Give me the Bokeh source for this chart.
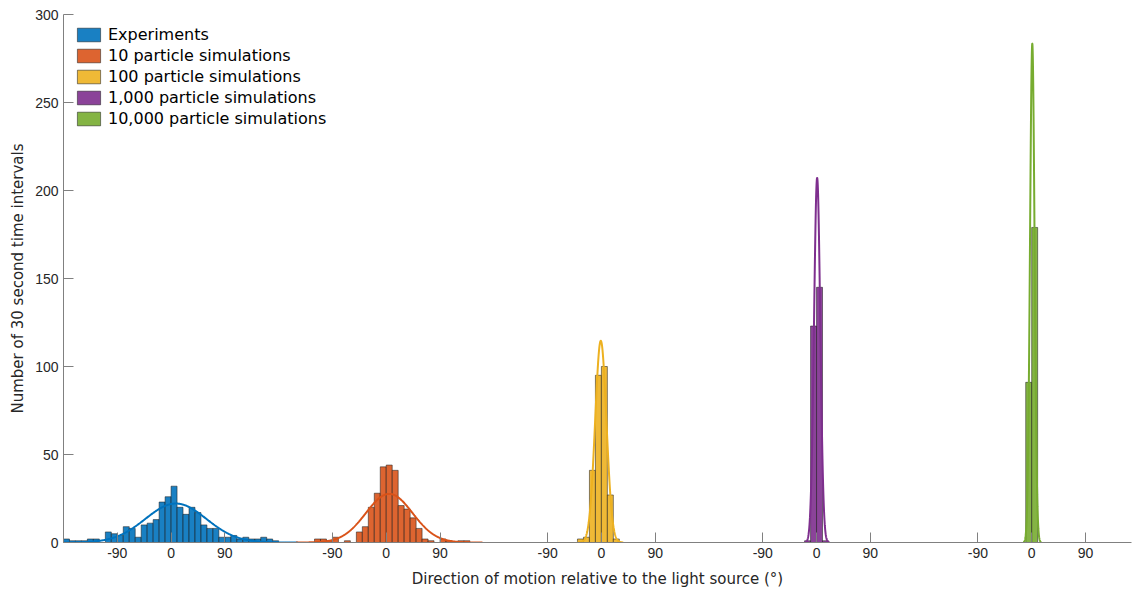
import numpy as np
from bokeh.plotting import figure
from bokeh.models import Range1d, FixedTicker, Legend, LegendItem, CustomJSTickFormatter
from bokeh.embed import file_html
from bokeh.resources import INLINE

# ---- data ---------------------------------------------------------------
BIN_WIDTH = 10          # histogram bin width, degrees
GROUP_SHIFT = 360       # each histogram is drawn one full turn to the right of the previous

series_names = [
    "Experiments",
    "10 particle simulations",
    "100 particle simulations",
    "1,000 particle simulations",
    "10,000 particle simulations",
]
series_colors = ["#0072BD", "#D95319", "#EDB120", "#7E2F8E", "#77AC30"]

# left edge of the first bin (degrees) and bin counts for each series
exp_first_bin = -180
exp_counts = [2, 1, 1, 1, 2, 2, 0, 6, 5, 4, 9, 8, 3, 10, 11, 13, 23, 26,
              32, 20, 16, 20, 17, 10, 8, 8, 3, 3, 4, 2, 3, 2, 2, 3, 2, 1]

p10_first_bin = -120
p10_counts = [2, 2, 1, 3, 0, 1, 0, 6, 9, 20, 28, 43, 44, 41, 21, 19, 14, 8,
              2, 1, 0, 2, 1, 0, 1, 1]

p100_first_bin = -40
p100_counts = [2, 3, 41, 95, 100, 27, 2]

p1000_first_bin = -20
p1000_counts = [1, 123, 145, 1]

p10000_first_bin = -10
p10000_counts = [91, 179]

first_bins = [exp_first_bin, p10_first_bin, p100_first_bin, p1000_first_bin, p10000_first_bin]
all_counts = [exp_counts, p10_counts, p100_counts, p1000_counts, p10000_counts]

# normal fit to each sample: mean and standard deviation (degrees)
fit_mean = [8, 5, -1, 1, 1]
fit_sd = [51, 39, 9.4, 5.2, 3.8]

tick_angles = [-90, 0, 90]
tick_labels = ["-90", "0", "90"]
y_ticks = [0, 50, 100, 150, 200, 250, 300]

# ---- figure -------------------------------------------------------------
p = figure(
    width=1132, height=592,
    x_range=Range1d(-180, 1607), y_range=Range1d(0, 300),
    output_backend="svg", toolbar_location=None,
    min_border_left=63, min_border_right=1, min_border_top=14, min_border_bottom=50,
)
p.outline_line_color = None
p.xgrid.visible = False
p.ygrid.visible = False
p.background_fill_color = "white"
p.border_fill_color = "white"

items = []
for i, (start, counts) in enumerate(zip(first_bins, all_counts)):
    shift = i * GROUP_SHIFT
    counts = np.asarray(counts, dtype=float)
    left = start + BIN_WIDTH * np.arange(len(counts)) + shift
    right = left + BIN_WIDTH
    keep = counts > 0
    r = p.quad(left=left[keep], right=right[keep], bottom=0, top=counts[keep],
               fill_color=series_colors[i], fill_alpha=0.9,
               line_color="#1a1a1a", line_alpha=0.75, line_width=0.7)
    items.append(LegendItem(label=series_names[i], renderers=[r]))

    # fitted normal curve scaled to the histogram (count * bin width * pdf)
    n = counts.sum()
    mu, sd = fit_mean[i], fit_sd[i]
    lo = min(start, mu - 4 * sd)
    hi = max(start + BIN_WIDTH * len(counts), mu + 4 * sd)
    xs = np.linspace(lo, hi, 800)
    ys = n * BIN_WIDTH * np.exp(-0.5 * ((xs - mu) / sd) ** 2) / (sd * np.sqrt(2 * np.pi))
    p.line(xs + shift, ys, line_color=series_colors[i], line_width=2)

# ---- axes ---------------------------------------------------------------
axis_color = "#808080"
text_color = "#262626"

xticks = [i * GROUP_SHIFT + a for i in range(len(series_names)) for a in tick_angles]
p.xaxis.ticker = FixedTicker(ticks=xticks)
p.xaxis.formatter = CustomJSTickFormatter(args=dict(labels=tick_labels),
                                          code="return labels[index % labels.length];")
p.yaxis.ticker = FixedTicker(ticks=y_ticks)

for ax in (p.xaxis[0], p.yaxis[0]):
    ax.axis_line_color = axis_color
    ax.major_tick_line_color = axis_color
    ax.major_tick_in = 10
    ax.major_tick_out = 0
    ax.minor_tick_line_color = None
    ax.major_label_text_font = "Liberation Sans"
    ax.major_label_text_font_size = "14px"
    ax.major_label_text_color = text_color
    ax.axis_label_text_font = "DejaVu Sans"
    ax.axis_label_text_font_size = "15px"
    ax.axis_label_text_font_style = "normal"
    ax.axis_label_text_color = text_color

p.xaxis.axis_label = "Direction of motion relative to the light source (°)"
p.yaxis.axis_label = "Number of 30 second time intervals"
p.xaxis.major_label_standoff = 5
p.xaxis.axis_label_standoff = 9
p.yaxis.major_label_standoff = 5
p.yaxis.axis_label_standoff = 5

legend = Legend(items=items, location="top_left")
legend.margin = 1
legend.padding = 10
legend.spacing = 2
legend.glyph_width = 29
legend.glyph_height = 17
legend.label_height = 17
legend.label_standoff = 5
legend.label_text_font = "DejaVu Sans"
legend.label_text_font_size = "16px"
legend.label_text_color = "black"
legend.border_line_alpha = 0
legend.background_fill_alpha = 0
p.add_layout(legend)

open("out.html", "w").write(file_html(p, INLINE))
